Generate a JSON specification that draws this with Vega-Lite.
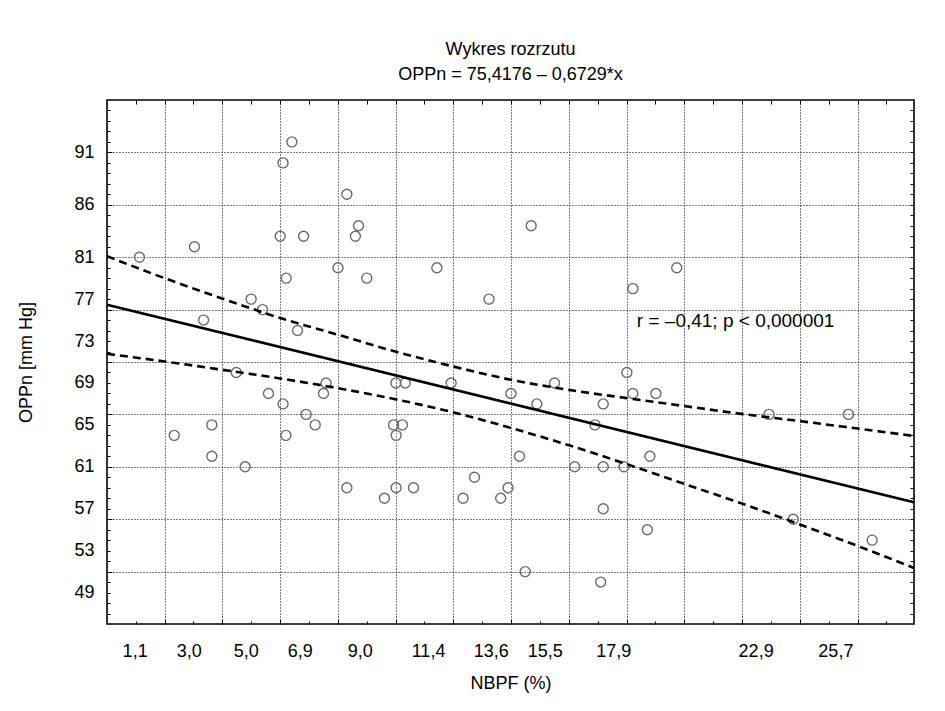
{
  "$schema": "https://vega.github.io/schema/vega-lite/v6.json",
  "width": 807,
  "height": 524,
  "autosize": {"type": "none"},
  "padding": {"left": 107, "top": 100, "right": 31, "bottom": 87},
  "background": "white",
  "config": {
    "view": {"stroke": "black", "strokeWidth": 1.6},
    "font": "Liberation Sans",
    "axis": {"labelFont": "Liberation Sans", "titleFont": "Liberation Sans", "labelColor": "black", "titleColor": "black", "labelFontSize": 18, "titleFontSize": 18, "titleFontWeight": "normal", "domain": false, "tickColor": "black", "tickWidth": 1}
  },
  "title": {
    "text": ["Wykres rozrzutu", "OPPn  = 75,4176 – 0,6729*x"],
    "font": "Liberation Sans",
    "fontSize": 18,
    "fontWeight": "normal",
    "color": "black",
    "lineHeight": 25,
    "anchor": "middle",
    "offset": 16
  },
  "resolve": {"axis": {"x": "independent", "y": "independent"}},
  "layer": [
    {
      "data": {"values": [
        {"x": 6.62, "y": 92}, {"x": 6.31, "y": 90}, {"x": 8.55, "y": 87}, {"x": 8.96, "y": 84},
        {"x": 8.85, "y": 83}, {"x": 6.21, "y": 83}, {"x": 7.03, "y": 83}, {"x": 3.20, "y": 82},
        {"x": 1.27, "y": 81}, {"x": 8.24, "y": 80}, {"x": 6.42, "y": 79}, {"x": 9.25, "y": 79},
        {"x": 5.19, "y": 77}, {"x": 5.59, "y": 76}, {"x": 3.52, "y": 75}, {"x": 6.82, "y": 74},
        {"x": 15.02, "y": 84}, {"x": 11.71, "y": 80}, {"x": 13.54, "y": 77}, {"x": 18.59, "y": 78},
        {"x": 20.13, "y": 80}, {"x": 4.67, "y": 70}, {"x": 7.82, "y": 69}, {"x": 7.73, "y": 68},
        {"x": 5.80, "y": 68}, {"x": 6.31, "y": 67}, {"x": 7.12, "y": 66}, {"x": 7.44, "y": 65},
        {"x": 3.81, "y": 65}, {"x": 2.49, "y": 64}, {"x": 6.41, "y": 64}, {"x": 3.81, "y": 62},
        {"x": 4.98, "y": 61}, {"x": 8.55, "y": 59}, {"x": 9.87, "y": 58}, {"x": 10.27, "y": 69},
        {"x": 10.60, "y": 69}, {"x": 12.21, "y": 69}, {"x": 14.31, "y": 68}, {"x": 15.22, "y": 67},
        {"x": 15.84, "y": 69}, {"x": 18.38, "y": 70}, {"x": 18.59, "y": 68}, {"x": 17.55, "y": 67},
        {"x": 17.26, "y": 65}, {"x": 10.19, "y": 65}, {"x": 10.50, "y": 65}, {"x": 10.28, "y": 64},
        {"x": 14.61, "y": 62}, {"x": 16.55, "y": 61}, {"x": 17.55, "y": 61}, {"x": 18.28, "y": 61},
        {"x": 13.03, "y": 60}, {"x": 10.28, "y": 59}, {"x": 10.89, "y": 59}, {"x": 14.21, "y": 59},
        {"x": 12.63, "y": 58}, {"x": 13.95, "y": 58}, {"x": 17.55, "y": 57}, {"x": 14.81, "y": 51},
        {"x": 17.46, "y": 50}, {"x": 19.40, "y": 68}, {"x": 23.37, "y": 66}, {"x": 26.16, "y": 66},
        {"x": 19.19, "y": 62}, {"x": 19.10, "y": 55}, {"x": 24.22, "y": 56}, {"x": 26.99, "y": 54}
      ]},
      "mark": {"type": "point", "shape": "circle", "filled": false, "stroke": "#6b6b6b", "strokeWidth": 1.4, "size": 100, "opacity": 1},
      "encoding": {
        "x": {"field": "x", "type": "quantitative", "scale": {"domain": [0.13, 28.46], "nice": false, "zero": false},
          "axis": {"orient": "bottom", "values": [1.1, 3.0, 5.0, 6.9, 9.0, 11.4, 13.6, 15.5, 17.9, 22.9, 25.7], "labelExpr": "replace(format(datum.value, '.1f'), '.', ',')", "grid": false, "ticks": false, "labelPadding": 18, "labelFlush": false, "title": "NBPF (%)", "titlePadding": 14}},
        "y": {"field": "y", "type": "quantitative", "scale": {"domain": [46, 96], "nice": false, "zero": false},
          "axis": {"orient": "left", "values": [49, 53, 57, 61, 65, 69, 73, 77, 81, 86, 91], "grid": false, "ticks": false, "labelPadding": 13, "labelFlush": false, "title": "OPPn [mm Hg]", "titlePadding": 38}}
      }
    },
    {
      "data": {"values": [{"x": 0.13, "y": 76.47}, {"x": 28.46, "y": 57.61}]},
      "mark": {"type": "line", "color": "black", "strokeWidth": 2.6},
      "encoding": {
        "x": {"field": "x", "type": "quantitative", "scale": {"domain": [0.13, 28.46], "nice": false, "zero": false},
          "axis": {"orient": "bottom", "values": [2.15, 4.18, 6.21, 8.23, 10.26, 12.29, 14.32, 16.34, 18.37, 20.40, 22.43, 24.45, 26.48], "grid": true, "gridColor": "black", "gridDash": [1, 2], "gridWidth": 1, "gridOpacity": 1, "ticks": true, "tickSize": -5, "labels": false, "title": null}},
        "y": {"field": "y", "type": "quantitative", "scale": {"domain": [46, 96], "nice": false, "zero": false},
          "axis": {"orient": "left", "values": [51, 56, 61, 66, 71, 76, 81, 86, 91], "grid": true, "gridColor": "black", "gridDash": [1, 2], "gridWidth": 1, "gridOpacity": 1, "ticks": true, "tickSize": -5, "labels": false, "title": null}}
      }
    },
    {
      "data": {"values": [
        {"x": 0.13, "y": 81.09}, {"x": 2.15, "y": 79.0}, {"x": 4.19, "y": 77.04}, {"x": 6.21, "y": 75.2},
        {"x": 8.24, "y": 73.6}, {"x": 10.25, "y": 72.0}, {"x": 12.29, "y": 70.57}, {"x": 14.32, "y": 69.3},
        {"x": 16.35, "y": 68.34}, {"x": 18.38, "y": 67.55}, {"x": 20.36, "y": 66.81}, {"x": 22.4, "y": 66.05},
        {"x": 24.45, "y": 65.36}, {"x": 26.48, "y": 64.65}, {"x": 28.46, "y": 63.94}
      ]},
      "mark": {"type": "line", "color": "black", "strokeWidth": 2.6, "strokeDash": [8, 5], "interpolate": "monotone"},
      "encoding": {
        "x": {"field": "x", "type": "quantitative", "scale": {"domain": [0.13, 28.46], "nice": false, "zero": false},
          "axis": {"orient": "bottom", "values": [1.14, 3.16, 5.19, 7.22, 9.25, 11.27, 13.30, 15.33, 17.36, 19.38, 21.41, 23.44, 25.47, 27.49], "grid": false, "ticks": true, "tickSize": -3, "labels": false, "title": null}},
        "y": {"field": "y", "type": "quantitative", "scale": {"domain": [46, 96], "nice": false, "zero": false},
          "axis": {"orient": "left", "values": [47, 48, 49, 50, 52, 53, 54, 55, 57, 58, 59, 60, 62, 63, 64, 65, 67, 68, 69, 70, 72, 73, 74, 75, 77, 78, 79, 80, 82, 83, 84, 85, 87, 88, 89, 90, 92, 93, 94, 95], "grid": false, "ticks": true, "tickSize": -3, "labels": false, "title": null}}
      }
    },
    {
      "data": {"values": [
        {"x": 0.13, "y": 71.78}, {"x": 2.15, "y": 71.05}, {"x": 4.19, "y": 70.25}, {"x": 6.21, "y": 69.43},
        {"x": 8.24, "y": 68.5}, {"x": 10.25, "y": 67.45}, {"x": 12.28, "y": 66.2}, {"x": 14.32, "y": 64.7},
        {"x": 16.35, "y": 63.05}, {"x": 18.38, "y": 61.25}, {"x": 20.36, "y": 59.4}, {"x": 22.4, "y": 57.51},
        {"x": 24.45, "y": 55.5}, {"x": 26.48, "y": 53.45}, {"x": 28.46, "y": 51.35}
      ]},
      "mark": {"type": "line", "color": "black", "strokeWidth": 2.6, "strokeDash": [8, 5], "interpolate": "monotone"},
      "encoding": {
        "x": {"field": "x", "type": "quantitative", "scale": {"domain": [0.13, 28.46], "nice": false, "zero": false},
          "axis": {"orient": "top", "values": [1.14, 2.15, 3.16, 4.18, 5.19, 6.21, 7.22, 8.23, 9.25, 10.26, 11.27, 12.29, 13.30, 14.32, 15.33, 16.34, 17.36, 18.37, 19.38, 20.40, 21.41, 22.43, 23.44, 24.45, 25.47, 26.48, 27.49], "grid": false, "ticks": true, "tickSize": -4, "labels": false, "title": null}},
        "y": {"field": "y", "type": "quantitative", "scale": {"domain": [46, 96], "nice": false, "zero": false},
          "axis": {"orient": "right", "values": [47, 48, 49, 50, 51, 52, 53, 54, 55, 56, 57, 58, 59, 60, 61, 62, 63, 64, 65, 66, 67, 68, 69, 70, 71, 72, 73, 74, 75, 76, 77, 78, 79, 80, 81, 82, 83, 84, 85, 86, 87, 88, 89, 90, 91, 92, 93, 94, 95], "grid": false, "ticks": true, "tickSize": -4, "labels": false, "title": null}}
      }
    },
    {
      "data": {"values": [{"x": 18.73, "y": 74.9, "label": "r = –0,41; p < 0,000001"}]},
      "mark": {"type": "text", "align": "left", "baseline": "middle", "fontSize": 19, "font": "Liberation Sans", "color": "black"},
      "encoding": {
        "x": {"field": "x", "type": "quantitative", "scale": {"domain": [0.13, 28.46], "nice": false, "zero": false}, "axis": null},
        "y": {"field": "y", "type": "quantitative", "scale": {"domain": [46, 96], "nice": false, "zero": false}, "axis": null},
        "text": {"field": "label"}
      }
    }
  ]
}
